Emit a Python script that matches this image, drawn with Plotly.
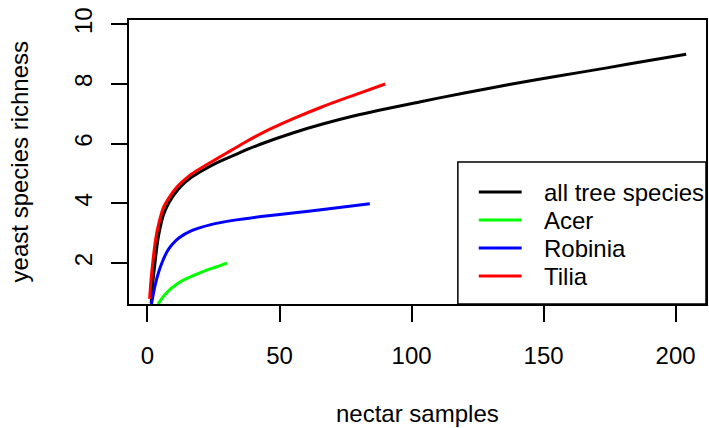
import plotly.graph_objects as go

# ---- data ----
all_x = [1.4, 2.0, 2.9, 3.7, 4.6, 6, 8, 10.3, 13, 16, 20, 26, 35, 43, 55, 66, 80, 103, 120, 137, 155, 174, 190, 204]
all_y = [0.65, 1.35, 2.05, 2.65, 3.1, 3.6, 4.0, 4.32, 4.6, 4.83, 5.06, 5.35, 5.70, 5.99, 6.36, 6.65, 6.97, 7.40, 7.70, 7.98, 8.26, 8.54, 8.79, 9.0]

acer_x = [4.0, 6.5, 9, 11.5, 14.5, 17.8, 22, 26, 30.1]
acer_y = [0.63, 0.93, 1.15, 1.32, 1.47, 1.60, 1.75, 1.87, 2.0]

robinia_x = [1.5, 3.0, 4.3, 5.8, 7.5, 9.5, 12, 16.5, 24, 33, 43, 55, 68, 84.2]
robinia_y = [0.63, 1.3, 1.72, 2.08, 2.40, 2.64, 2.85, 3.08, 3.29, 3.44, 3.56, 3.68, 3.81, 3.99]

tilia_x = [0.8, 1.3, 2.1, 3, 4, 6, 9, 11, 13, 16, 20, 24, 30, 36, 43, 55, 66, 78, 90]
tilia_y = [0.8, 1.4, 2.1, 2.75, 3.22, 3.85, 4.30, 4.53, 4.71, 4.94, 5.17, 5.38, 5.69, 6.00, 6.34, 6.83, 7.23, 7.62, 8.0]

series_names = ["all tree species", "Acer", "Robinia", "Tilia"]
series_colors = ["#000000", "#00FF00", "#0000FF", "#FF0000"]

x_ticks = [0, 50, 100, 150, 200]
y_ticks = [2, 4, 6, 8, 10]

FONT = "Liberation Sans, Arial, Helvetica, sans-serif"

# plot-area geometry (pixels) used for the legend box placement
W, H = 709, 428
ML, MR, MT, MB = 129, 1, 20, 124
PW, PH = W - ML - MR, H - MT - MB


def px_x(p):
    return (p - ML) / PW


def px_y(p):
    return (H - MB - p) / PH


fig = go.Figure()
for name, xs, ys, col in zip(series_names,
                             [all_x, acer_x, robinia_x, tilia_x],
                             [all_y, acer_y, robinia_y, tilia_y],
                             series_colors):
    fig.add_trace(go.Scatter(x=xs, y=ys, mode="lines", name=name, showlegend=False,
                             line=dict(color=col, width=3, shape="spline", smoothing=0.8)))

# legend drawn R-style: box, line samples and labels
shapes = [dict(type="rect", xref="paper", yref="paper",
               x0=px_x(459), x1=1.0, y0=0.0, y1=px_y(162),
               line=dict(color="black", width=1.5))]
annotations = []
legend_rows = [192, 220, 248, 276]
for name, col, ry in zip(series_names, series_colors, legend_rows):
    shapes.append(dict(type="line", xref="paper", yref="paper",
                       x0=px_x(480), x1=px_x(523), y0=px_y(ry), y1=px_y(ry),
                       line=dict(color=col, width=3)))
    annotations.append(dict(text=name, xref="paper", yref="paper",
                            x=px_x(543), y=px_y(ry), xanchor="left", yanchor="middle",
                            showarrow=False, font=dict(size=24, family=FONT, color="black")))

annotations += [
    dict(text="nectar samples", xref="paper", yref="paper", x=0.5, y=px_y(413),
         xanchor="center", yanchor="middle", showarrow=False,
         font=dict(size=24, family=FONT)),
    dict(text="yeast species richness", xref="paper", yref="paper", x=px_x(19), y=0.5,
         xanchor="center", yanchor="middle", textangle=-90, showarrow=False,
         font=dict(size=24, family=FONT)),
]

fig.update_layout(
    width=W, height=H,
    margin=dict(l=ML, r=MR, t=MT, b=MB),
    paper_bgcolor="white", plot_bgcolor="white",
    font=dict(family=FONT, size=24, color="black"),
    showlegend=False,
    shapes=shapes,
    annotations=annotations,
)

axis_common = dict(ticks="outside", ticklen=16, tickwidth=1.5, tickcolor="black",
                   showline=True, linecolor="black", linewidth=1.5, mirror=True,
                   showgrid=False, zeroline=False)
fig.update_xaxes(range=[-7.0, 211.5], tickvals=x_ticks, ticklabelstandoff=13, **axis_common)
fig.update_yaxes(range=[0.63, 10.144], tickvals=y_ticks, tickangle=-90, ticklabelstandoff=10, **axis_common)

fig.write_html("out.html")
